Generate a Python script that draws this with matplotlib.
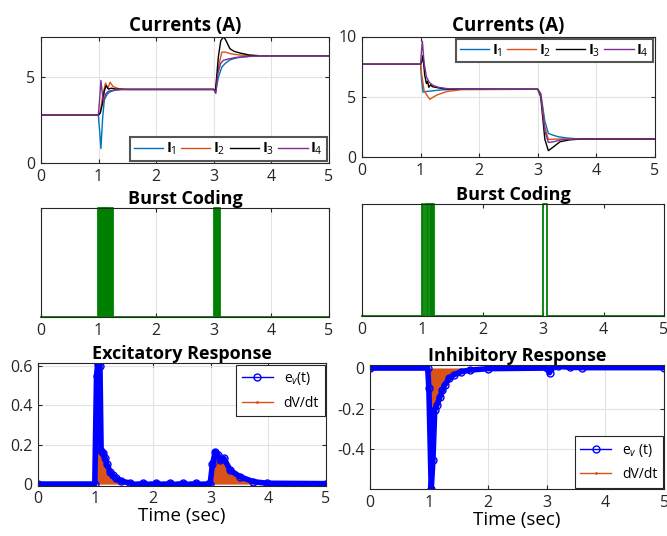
import matplotlib
matplotlib.use('Agg')
import matplotlib.pyplot as plt
from matplotlib.lines import Line2D

plt.rcParams.update({
    'font.family': ['Open Sans', 'DejaVu Sans'],
    'mathtext.fontset': 'custom',
    'mathtext.rm': 'Open Sans',
    'mathtext.it': 'Open Sans:italic',
    'mathtext.bf': 'Open Sans:bold',
    'axes.unicode_minus': False,
    'axes.linewidth': 0.8,
    'axes.edgecolor': '#262626',
    'xtick.direction': 'in',
    'ytick.direction': 'in',
    'xtick.top': True,
    'ytick.right': True,
    'xtick.major.size': 3,
    'ytick.major.size': 3,
    'xtick.labelsize': 11.5,
    'ytick.labelsize': 11.5,
    'xtick.color': '#262626',
    'ytick.color': '#262626',
    'grid.color': '#e3e3e3',
    'grid.linewidth': 0.8,
})

colors = ['#0072BD', '#D95319', '#000000', '#7E2F8E']
labels = [r'$\mathbf{I}_{1}$', r'$\mathbf{I}_{2}$', r'$\mathbf{I}_{3}$', r'$\mathbf{I}_{4}$']

# ---- currents, excitatory case (top left)
exc_t = [
    [0, 0.995, 1.02, 1.04, 1.07, 1.1, 1.15, 1.2, 1.3, 1.4, 3.0, 3.03, 3.08, 3.14, 3.2, 3.28, 3.4, 3.55, 3.7, 3.9, 5.0],
    [0, 0.995, 1.03, 1.07, 1.12, 1.16, 1.2, 1.25, 1.35, 1.5, 3.0, 3.03, 3.08, 3.14, 3.2, 3.3, 3.45, 3.6, 3.8, 5.0],
    [0, 0.995, 1.03, 1.07, 1.1, 1.13, 1.17, 1.22, 1.3, 1.45, 3.0, 3.03, 3.08, 3.12, 3.165, 3.2, 3.28, 3.35, 3.45, 3.62, 3.8, 5.0],
    [0, 0.995, 1.02, 1.04, 1.07, 1.094, 1.12, 1.16, 1.2, 1.3, 1.45, 3.0, 3.035, 3.07, 3.12, 3.165, 3.25, 3.4, 3.6, 3.8, 5.0],
]
exc_i = [
    [2.78, 2.78, 1.8, 0.84, 2.6, 3.7, 4.0, 4.15, 4.25, 4.28, 4.28, 4.1, 5.0, 5.58, 5.8, 6.0, 6.12, 6.18, 6.22, 6.24, 6.24],
    [2.78, 2.78, 3.0, 3.9, 4.65, 4.35, 4.7, 4.45, 4.32, 4.28, 4.28, 4.2, 5.6, 6.45, 6.45, 6.35, 6.28, 6.25, 6.24, 6.24],
    [2.78, 2.78, 2.9, 3.5, 4.2, 4.5, 4.3, 4.35, 4.3, 4.28, 4.28, 4.25, 6.2, 7.1, 7.33, 7.2, 6.65, 6.5, 6.4, 6.28, 6.24, 6.24],
    [2.78, 2.78, 3.8, 4.8, 3.9, 3.6, 4.0, 4.15, 4.2, 4.25, 4.28, 4.28, 4.05, 5.2, 5.8, 5.97, 6.05, 6.15, 6.2, 6.24, 6.24],
]

# ---- currents, inhibitory case (top right)
inh_t = [
    [0, 1.0, 1.015, 1.04, 1.1, 1.2, 1.35, 1.6, 3.0, 3.05, 3.12, 3.18, 3.25, 3.35, 3.5, 3.7, 5.0],
    [0, 1.0, 1.02, 1.06, 1.1, 1.157, 1.22, 1.3, 1.45, 1.7, 3.0, 3.05, 3.12, 3.18, 3.28, 3.4, 3.6, 5.0],
    [0, 1.0, 1.02, 1.04, 1.07, 1.1, 1.12, 1.14, 1.17, 1.2, 1.3, 1.45, 3.0, 3.05, 3.12, 3.18, 3.25, 3.38, 3.55, 3.75, 5.0],
    [0, 1.0, 1.015, 1.03, 1.06, 1.1, 1.15, 1.21, 1.3, 1.44, 1.7, 3.0, 3.05, 3.12, 3.18, 3.28, 3.4, 3.6, 5.0],
]
inh_i = [
    [7.7, 7.7, 6.5, 5.4, 5.45, 5.5, 5.58, 5.63, 5.63, 5.3, 3.0, 1.98, 1.85, 1.7, 1.6, 1.52, 1.51],
    [7.7, 7.7, 6.8, 5.5, 5.2, 4.8, 5.0, 5.2, 5.45, 5.6, 5.63, 5.2, 2.5, 1.48, 1.5, 1.52, 1.51, 1.51],
    [7.7, 7.7, 7.9, 8.43, 6.8, 6.1, 6.3, 5.8, 6.0, 5.85, 5.75, 5.65, 5.63, 5.0, 1.5, 0.55, 0.8, 1.29, 1.45, 1.51, 1.51],
    [7.7, 7.7, 8.8, 9.6, 7.8, 6.65, 6.2, 5.96, 5.8, 5.69, 5.63, 5.63, 5.1, 2.2, 1.23, 1.3, 1.45, 1.51, 1.51],
]

# ---- burst coding pulses (start, end) in sec
exc_bursts = [(0.995, 1.09), (1.1, 1.125), (1.135, 1.25), (3.01, 3.11)]
inh_bursts = [(0.99, 1.015), (1.045, 1.07), (1.095, 1.12), (1.15, 1.165), (1.18, 1.195), (3.003, 3.058)]

# ---- responses
exc_rt = [0, 0.99, 1.02, 1.04, 1.08, 1.1, 1.14, 1.17, 1.2, 1.26, 1.3, 1.35, 1.45, 1.6,
          1.72, 1.83, 1.95, 2.06, 2.18, 2.29, 2.41, 2.52, 2.64, 2.75, 2.87, 2.96,
          2.99, 3.03, 3.08, 3.12, 3.17, 3.23, 3.34, 3.51, 3.74, 3.97, 5.0]
exc_ev = [0, 0, 0.55, 0.61, 0.6, 0.17, 0.16, 0.13, 0.1, 0.06, 0.045, 0.03, 0.015, 0.005,
          -0.004, 0.004, -0.004, 0.004, -0.004, 0.004, -0.004, 0.004, -0.004, 0.004, -0.004, 0.0,
          0.0, 0.1, 0.164, 0.15, 0.12, 0.13, 0.07, 0.037, 0.012, 0.004, 0.002]

inh_rt = [0, 0.98, 1.0, 1.04, 1.07, 1.1, 1.14, 1.19, 1.23, 1.27, 1.35, 1.42, 1.55, 1.7, 2.0,
          3.0, 3.05, 3.11, 3.2, 3.4, 3.6, 5.0]
inh_ev = [0, 0, -0.1, -0.596, -0.45, -0.206, -0.18, -0.141, -0.11, -0.083, -0.05, -0.034, -0.018, -0.01, -0.003,
          0, -0.023, 0.012, 0.008, 0.004, 0.002, 0.002]

W, H = 667, 536
fig = plt.figure(figsize=(W / 100, H / 100), dpi=100)


def px_axes(x0, x1, y0, y1):
    # pixel box -> figure fraction
    return fig.add_axes([x0 / W, 1 - y1 / H, (x1 - x0) / W, (y1 - y0) / H])


def style(ax, grid=True):
    ax.set_xlim(0, 5)
    ax.set_xticks([0, 1, 2, 3, 4, 5])
    if grid:
        ax.grid(True)
    ax.set_axisbelow(True)
    ax.tick_params(pad=4)


def currents(ax, ts, vs, ylim, yticks, loc):
    for t, v, c, lab in zip(ts, vs, colors, labels):
        ax.plot(t, v, color=c, lw=1.0, label=lab)
    style(ax)
    ax.set_ylim(*ylim)
    ax.set_yticks(yticks)
    ax.set_title('Currents (A)', fontsize=13.5, fontweight='bold', pad=4)
    leg = ax.legend(loc=loc, ncol=4, fontsize=10.5, handlelength=2.0, columnspacing=0.3,
                    handletextpad=0.2, borderpad=0.25, borderaxespad=0.15,
                    fancybox=False, framealpha=1)
    leg.get_frame().set_edgecolor('#555555')
    leg.get_frame().set_linewidth(1.5)


def bursts(ax, pulses, filled):
    t, s = [0], [0]
    for a, b in pulses:
        t += [a, a, b, b]
        s += [0, 1, 1, 0]
    t.append(5)
    s.append(0)
    if filled:
        ax.fill_between(t, 0, s, color='#008000', lw=0)
    ax.plot(t, s, color='#008000', lw=1.3, clip_on=False)
    ax.set_ylim(0, 1)
    ax.set_yticks([])
    ax.tick_params(axis='y', right=False, left=False)
    ax.set_title('Burst Coding', fontsize=13, fontweight='bold', pad=2)


def response(ax, t, ev, title, ylim, yticks, yticklabels, loc, evlabel):
    ax.fill_between(t, 0, ev, color='#D95319', lw=0)
    ax.plot(t, ev, color='#0000FF', lw=4, marker='o', ms=5, mfc='none', mew=1.0)
    style(ax)
    ax.set_ylim(*ylim)
    ax.set_yticks(yticks)
    ax.set_yticklabels(yticklabels)
    ax.set_title(title, fontsize=13, fontweight='bold', pad=3)
    ax.set_xlabel('Time (sec)', fontsize=13.5, labelpad=0)
    handles = [Line2D([], [], color='#0000FF', lw=1, marker='o', ms=5, mfc='none'),
               Line2D([], [], color='#D95319', lw=1, marker='.', ms=2)]
    leg = ax.legend(handles, [evlabel, 'dV/dt'], loc=loc, fontsize=10, handlelength=2.2,
                    borderpad=0.4, labelspacing=0.6, borderaxespad=0.1,
                    fancybox=False, framealpha=1)
    leg.get_frame().set_edgecolor('#262626')
    leg.get_frame().set_linewidth(0.8)


ax1 = px_axes(41, 329, 37, 163)
currents(ax1, exc_t, exc_i, (0, 7.33), [0, 5], 'lower right')

ax2 = px_axes(362, 655, 36.5, 157.3)
currents(ax2, inh_t, inh_i, (0, 10), [0, 5, 10], 'upper right')

ax3 = px_axes(41, 329, 208, 317)
style(ax3, grid=False)
ax3.grid(True, axis='x')
bursts(ax3, exc_bursts, True)

ax4 = px_axes(362, 664, 204, 316)
style(ax4, grid=False)
bursts(ax4, inh_bursts, False)

ax5 = px_axes(37.7, 326, 363.3, 485.6)
response(ax5, exc_rt, exc_ev, 'Excitatory Response', (-0.008, 0.614),
         [0, 0.2, 0.4, 0.6], ['0', '0.2', '0.4', '0.6'], 'upper right', r'e$_{v}$(t)')

ax6 = px_axes(370, 664.3, 365, 489.3)
response(ax6, inh_rt, inh_ev, 'Inhibitory Response', (-0.596, 0.015),
         [-0.4, -0.2, 0], ['-0.4', '-0.2', '0'], 'lower right', r'e$_{v}$ (t)')

fig.savefig('out.png', dpi=100)
